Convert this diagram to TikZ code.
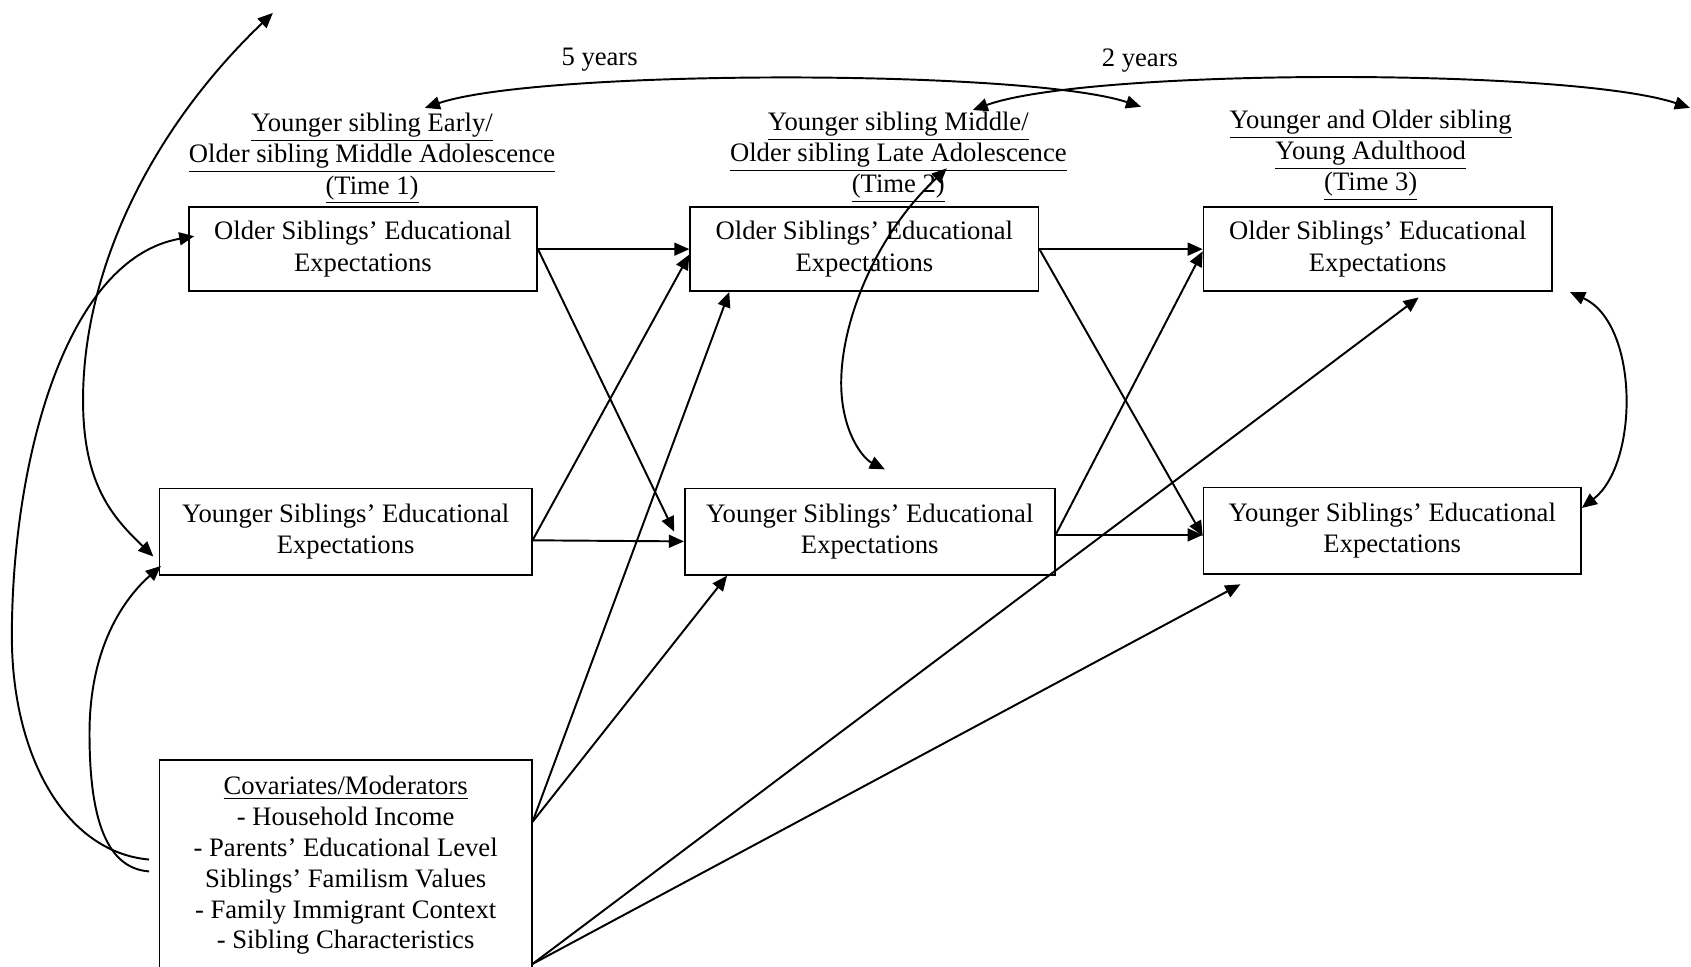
\documentclass[tikz,border=0pt]{standalone}
\usepackage{fontspec}
\setmainfont{Liberation Serif}
\usetikzlibrary{arrows.meta}

\begin{document}
\begin{tikzpicture}[->,>={Triangle[length=7pt,width=6pt]},x=0.5pt,y=-0.5pt,line width=0.9pt,
                    font=\fontsize{12.35pt}{14.5pt}\selectfont]
                \tikzstyle{box}=[draw,rectangle,line width=0.8pt,align=center,inner sep=0pt,minimum height=39pt]
                \tikzstyle{expbox}=[box,execute at begin node={\rule{0pt}{12.5pt}}]
                \tikzstyle{head}=[align=center,inner sep=0pt]
                \useasboundingbox (0,0) rectangle (1568,896);

                % time headers
                \node[head] (H1) at (345,147) {\underline{Younger sibling Early/}\\\underline{Older sibling Middle Adolescence}\\\underline{(Time 1)}};
                \node[head] (H2) at (833,146) {\underline{Younger sibling Middle/}\\\underline{Older sibling Late Adolescence}\\\underline{(Time 2)}};
                \node[head] (H3) at (1271,144) {\underline{Younger and Older sibling}\\\underline{Young Adulthood}\\\underline{(Time 3)}};
                \node[head] (yrs5) at (556,55) {5 years};
                \node[head] (yrs2) at (1057,56) {2 years};

                % boxes
                \node[expbox,minimum width=161.5pt] (O1) at (336.5,231) {Older Siblings’ Educational\\Expectations};
                \node[expbox,minimum width=161.5pt] (O2) at (801.5,231) {Older Siblings’ Educational\\Expectations};
                \node[expbox,minimum width=161.5pt] (O3) at (1277.5,231) {Older Siblings’ Educational\\Expectations};
                \node[expbox,minimum width=172.5pt,minimum height=40pt] (Y1) at (320.5,493) {Younger Siblings’ Educational\\Expectations};
                \node[expbox,minimum width=171.5pt,minimum height=40pt] (Y2) at (806.5,493) {Younger Siblings’ Educational\\Expectations};
                \node[expbox,minimum width=175pt,minimum height=40pt] (Y3) at (1291,492) {Younger Siblings’ Educational\\Expectations};
                \node[box,minimum width=172.5pt,minimum height=97.5pt,font=\fontsize{12.35pt}{14.3pt}\selectfont] (Cov) at (320.5,802.5)
                      {\underline{Covariates/Moderators}\\- Household Income\\- Parents’ Educational Level\\Siblings’ Familism Values\\- Family Immigrant Context\\- Sibling Characteristics};

                % free ends
                \coordinate (a0) at (394,100);
                \coordinate (a1) at (1058,99);
                \coordinate (b0) at (902,102);
                \coordinate (b1) at (1567,100);
                \coordinate (t0) at (253,12);
                \coordinate (m0) at (878,156);

                \path   (O1.east)                   edge (O2.west)
                        (O1.east)                   edge ([xshift=-4.5pt]Y2.west)
                        ([yshift=-4pt]Y1.east)      edge ([yshift=-2.5pt]O2.west)
                        ([yshift=-4pt]Y1.east)      edge ([yshift=-4.5pt]Y2.west)
                        (O2.east)                   edge (O3.west)
                        (O2.east)                   edge ([yshift=-2.5pt]Y3.west)
                        ([yshift=-1.5pt]Y2.east)    edge ([yshift=-1pt]O3.west)
                        ([yshift=-1.5pt]Y2.east)    edge ([yshift=-2pt]Y3.west)
                        ([yshift=20.25pt]Cov.east)  edge ([xshift=18.5pt]O2.south west)
                        ([yshift=20.25pt]Cov.east)  edge ([xshift=20pt]Y2.south west)
                        ([yshift=3.5pt]Cov.south east) edge ([xshift=19pt,yshift=-2.5pt]O3.south)
                        ([yshift=3.5pt]Cov.south east) edge ([xshift=17.5pt,yshift=-4.5pt]Y3.south west);

                % time spans
                \draw[<->] (a0) .. controls (500,64) and (952,64) .. (a1);
                \draw[<->] (b0) .. controls (1010,63) and (1457,63) .. (b1);

                % curved paths
                \draw[<->] (t0) .. controls (140,120) and (77,250) .. (77,371) .. controls (77,450) and (105,480) .. ([xshift=-2.5pt,yshift=-11.5pt]Y1.west);
                \draw ([xshift=-4.5pt,yshift=2.75pt]Cov.west) .. controls (60,790) and (11,700) .. (11,590) .. controls (11,430) and (60,240) .. ([xshift=3pt,yshift=6pt]O1.west);
                \draw ([xshift=-4.5pt,yshift=-2.75pt]Cov.west) .. controls (95,805) and (83,750) .. (83,680) .. controls (83,600) and (115,555) .. ([xshift=1pt,yshift=4.5pt]Y1.south west);
                \draw[<->] (m0) .. controls (810,220) and (780,300) .. (780,355) .. controls (780,400) and (800,425) .. ([xshift=7pt,yshift=8.5pt]Y2.north);
                \draw[<->] ([xshift=8pt]O3.south east) .. controls (1520,300) and (1520,430) .. ([yshift=10.5pt]Y3.east);
            \end{tikzpicture}
\end{document}
